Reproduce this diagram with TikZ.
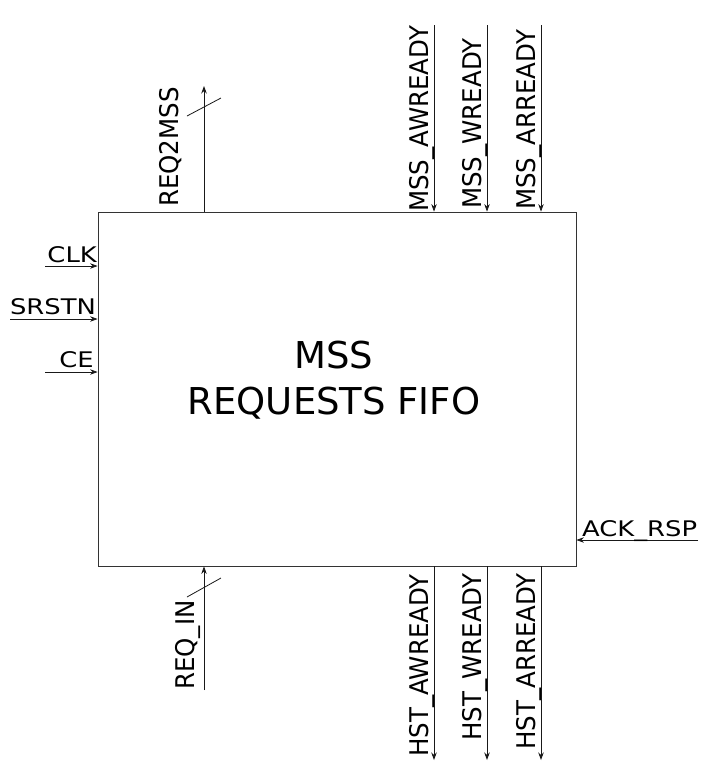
\documentclass[tikz,border=0pt]{standalone}
\usepackage{fontspec}
\setmainfont{DejaVu Sans}
\usetikzlibrary{arrows.meta}
\newcommand{\hlab}[1]{\scalebox{1.2}[1]{#1}}
\newcommand{\vlab}[1]{\scalebox{1}[1.05]{#1}}
\tikzset{
  wire/.style={draw=black!90, line width=0.8pt},
  sig/.style={wire, -{Stealth[length=7.5pt,width=5.5pt]}},
  hlabel/.style={inner sep=0pt, font=\fontsize{21.5}{24}\selectfont},
  vlabel/.style={inner sep=0pt, font=\fontsize{24.5}{28}\selectfont, rotate=90, anchor=base west},
  blockbox/.style={draw=black!80, line width=0.8pt, minimum width=478pt, minimum height=354pt, inner sep=0pt},
}
\begin{document}
\begin{tikzpicture}[x=1pt,y=-1pt]
\useasboundingbox (0,0) rectangle (709,780);
\node[blockbox] (box) at (337,389) {};
\node[inner sep=0pt, align=center, font=\fontsize{37}{46}\selectfont] (title) at (334,380) {MSS\\REQUESTS FIFO};
% left inputs
\coordinate (clkS) at (45,266);   \coordinate (clkE) at (box.west |- 0,266);
\coordinate (rstS) at (10,319);   \coordinate (rstE) at (box.west |- 0,319);
\coordinate (ceS)  at (45,372);   \coordinate (ceE)  at (box.west |- 0,372);
\draw[sig] (clkS) -- (clkE);
\draw[sig] (rstS) -- (rstE);
\draw[sig] (ceS) -- (ceE);
\node[hlabel, anchor=base east] (clkL) at (97,262) {\hlab{CLK}};
\node[hlabel, anchor=base east] (rstL) at (96,314) {\hlab{SRSTN}};
\node[hlabel, anchor=base east] (ceL) at (94,367) {\hlab{CE}};
% REQ2MSS
\coordinate (r2mS) at (204,0 |- box.north); \coordinate (r2mE) at (204,86);
\draw[sig] (r2mS) -- (r2mE);
\coordinate (s1a) at (187,116); \coordinate (s1b) at (221,98);
\draw[wire] (s1a) -- (s1b);
\node[vlabel] (r2mL) at (178,207) {\vlab{REQ2MSS}};
% REQ_IN
\coordinate (rinS) at (204,690); \coordinate (rinE) at (204,0 |- box.south);
\draw[sig] (rinS) -- (rinE);
\coordinate (s2a) at (187,597); \coordinate (s2b) at (221,578);
\draw[wire] (s2a) -- (s2b);
\node[vlabel] (rinL) at (194,690) {\vlab{REQ\_IN}};
% MSS readies
\coordinate (m1S) at (434,25); \coordinate (m1E) at (434,0 |- box.north);
\coordinate (m2S) at (487,25); \coordinate (m2E) at (487,0 |- box.north);
\coordinate (m3S) at (541,25); \coordinate (m3E) at (541,0 |- box.north);
\draw[sig] (m1S) -- (m1E);
\draw[sig] (m2S) -- (m2E);
\draw[sig] (m3S) -- (m3E);
\node[vlabel] (m1L) at (428,212) {\vlab{MSS\_AWREADY}};
\node[vlabel] (m2L) at (481,209) {\vlab{MSS\_WREADY}};
\node[vlabel] (m3L) at (535,210) {\vlab{MSS\_ARREADY}};
% HST readies
\coordinate (h1S) at (434,0 |- box.south); \coordinate (h1E) at (434,760);
\coordinate (h2S) at (487,0 |- box.south); \coordinate (h2E) at (487,760);
\coordinate (h3S) at (541,0 |- box.south); \coordinate (h3E) at (541,760);
\draw[sig] (h1S) -- (h1E);
\draw[sig] (h2S) -- (h2E);
\draw[sig] (h3S) -- (h3E);
\node[vlabel] (h1L) at (428,757) {\vlab{HST\_AWREADY}};
\node[vlabel] (h2L) at (481,741) {\vlab{HST\_WREADY}};
\node[vlabel] (h3L) at (535,750) {\vlab{HST\_ARREADY}};
% ACK_RSP
\coordinate (ackS) at (698,540); \coordinate (ackE) at (box.east |- 0,540);
\draw[sig] (ackS) -- (ackE);
\node[hlabel, anchor=base west] (ackL) at (582,536) {\hlab{ACK\_RSP}};
\end{tikzpicture}
\end{document}
